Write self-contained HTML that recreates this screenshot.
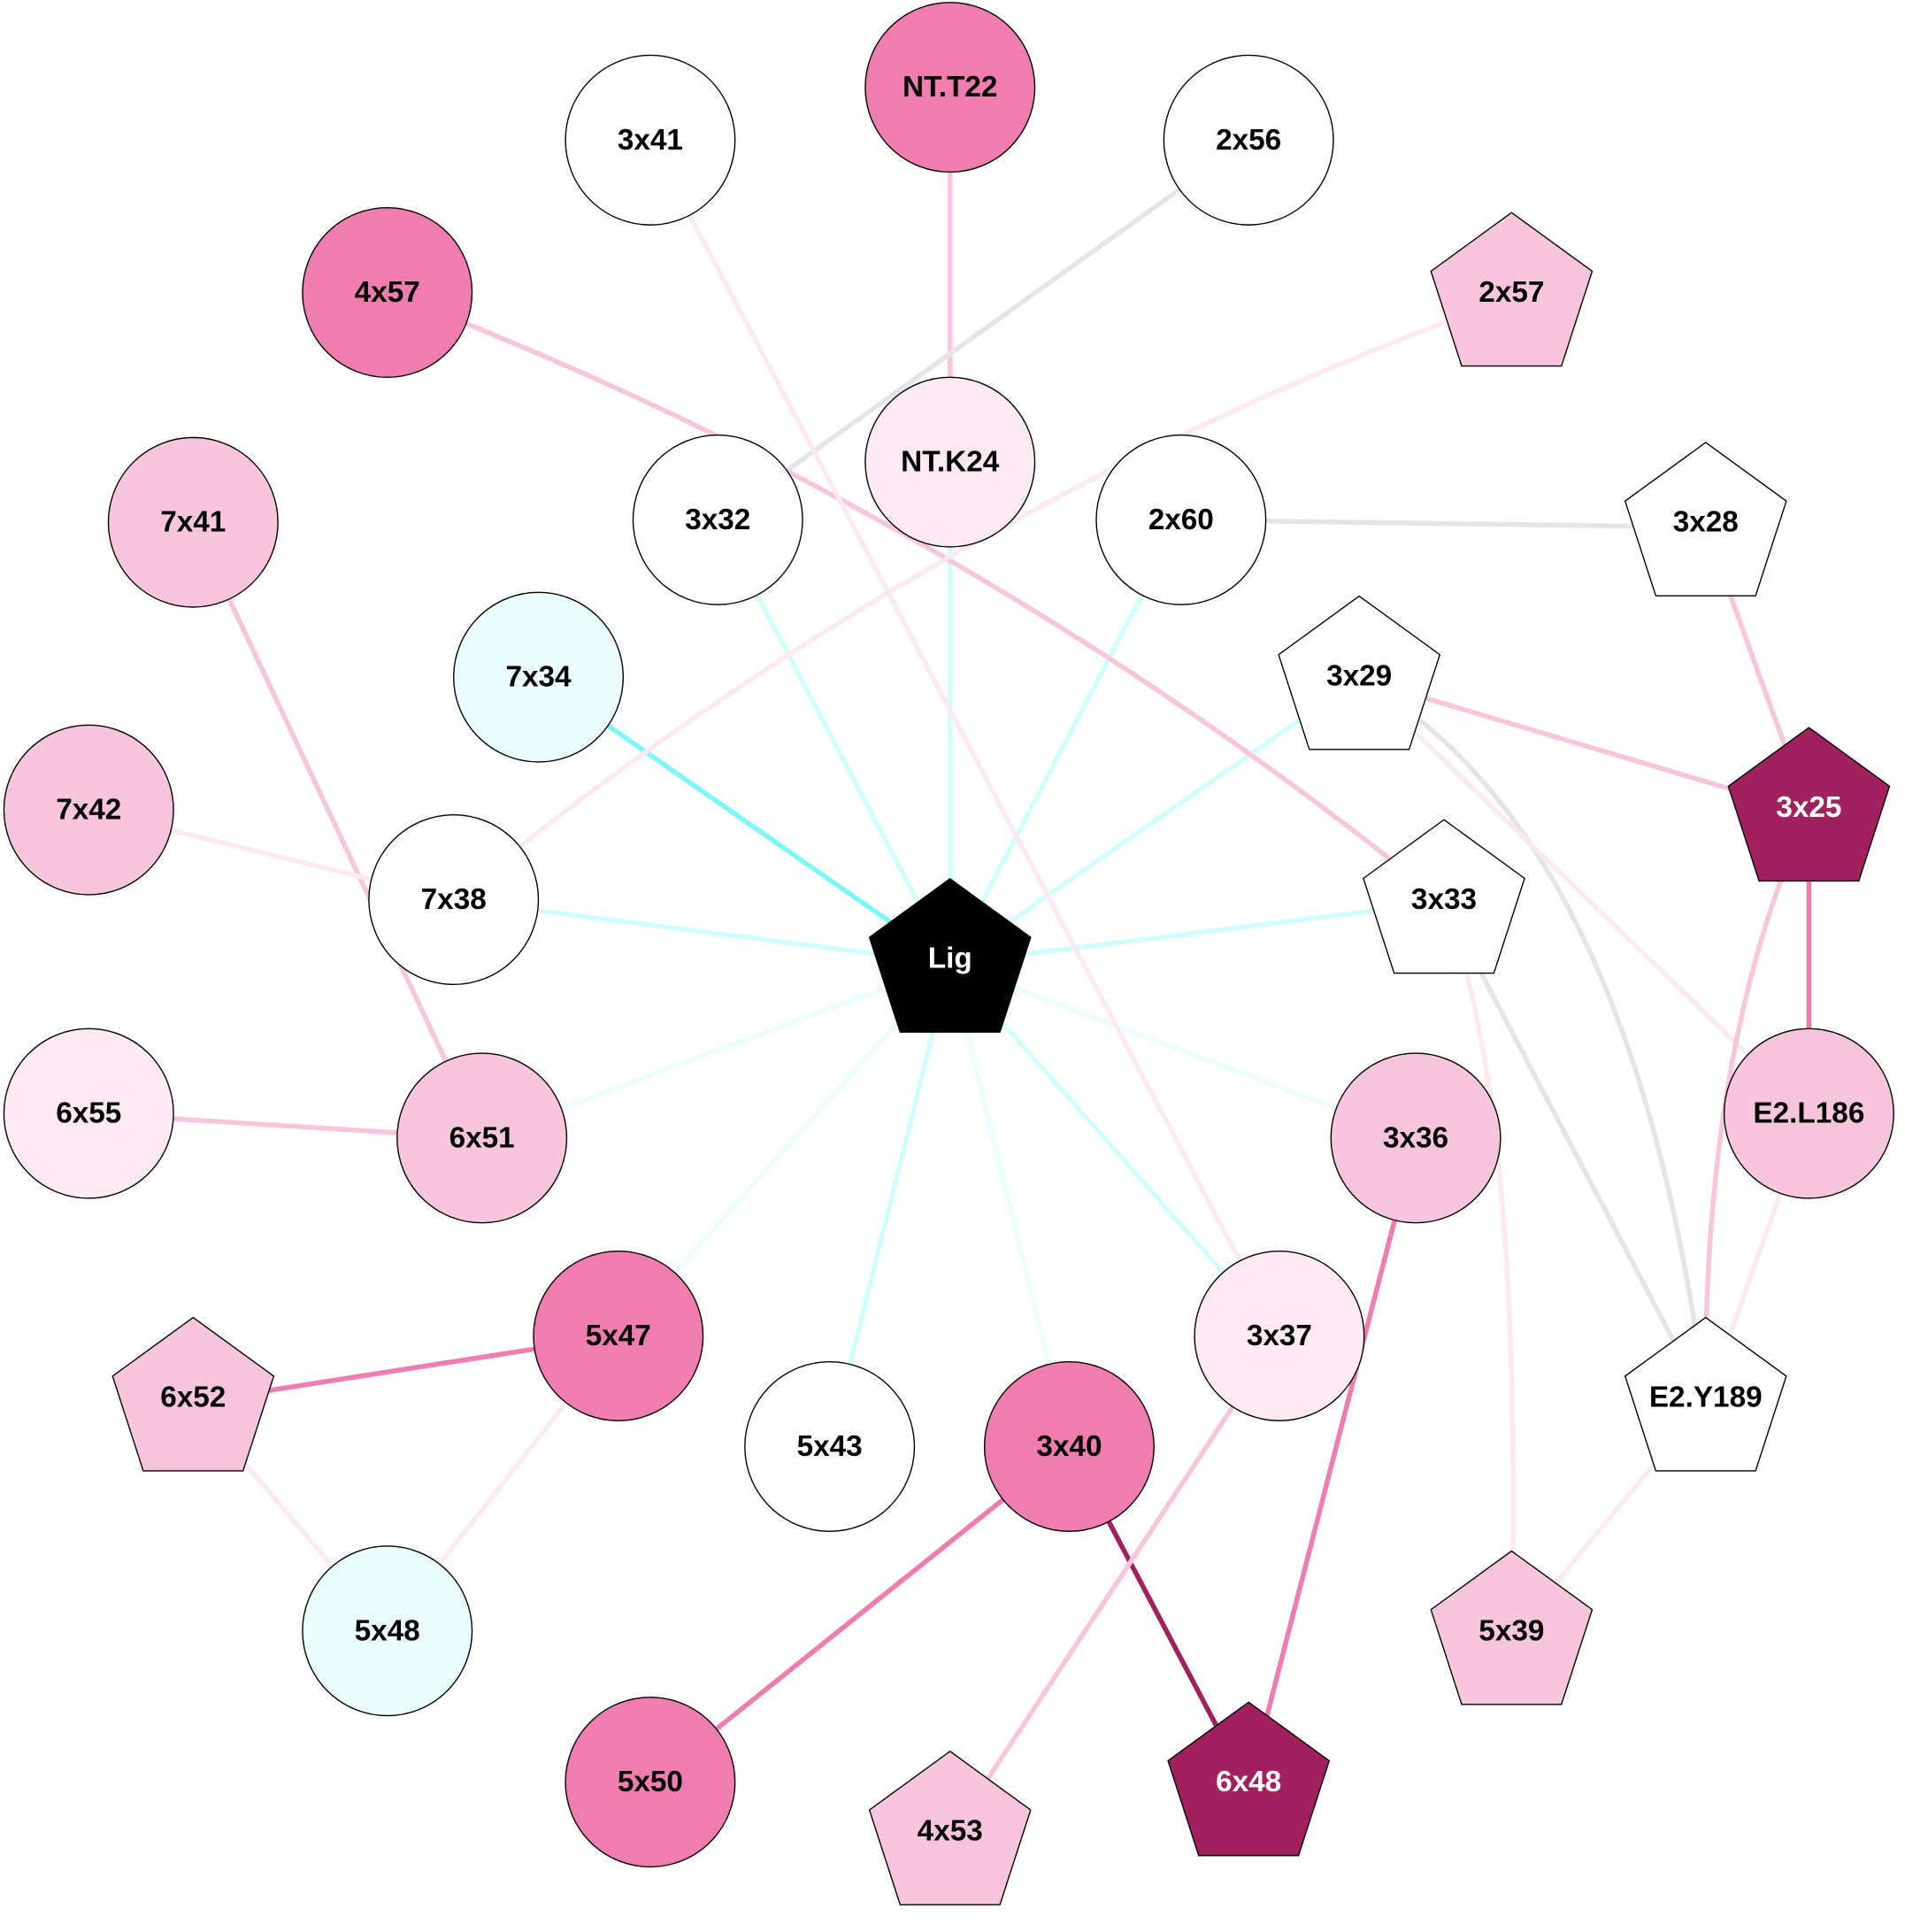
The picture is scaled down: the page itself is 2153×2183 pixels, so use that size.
<!DOCTYPE html>
<html><head><meta charset="utf-8"><style>
html,body{margin:0;padding:0;background:#fff;}
svg{display:block;}
text{font-family:"Liberation Sans",Arial,sans-serif;font-weight:bold;font-size:24px;text-anchor:middle;dominant-baseline:central;}
</style></head><body>
<svg width="2153" height="2183" viewBox="0 0 1550 1572" xmlns="http://www.w3.org/2000/svg">
<defs>
<polygon id="pg" points="0,-69 65.6,-21.3 40.6,55.8 -40.6,55.8 -65.6,-21.3"/>
</defs>
<g fill="none" stroke-width="4">
<line x1="773" y1="784" x2="438" y2="551" stroke="#80f7f7"/>
<line x1="773" y1="784" x2="584" y2="423" stroke="#d2fdfd"/>
<line x1="773" y1="784" x2="773" y2="376" stroke="#d2fdfd"/>
<line x1="773" y1="784" x2="961" y2="423" stroke="#d2fdfd"/>
<line x1="773" y1="784" x2="1106" y2="552" stroke="#d2fdfd"/>
<line x1="773" y1="784" x2="1175" y2="734" stroke="#d2fdfd"/>
<line x1="773" y1="784" x2="369" y2="732" stroke="#d2fdfd"/>
<line x1="773" y1="784" x2="392" y2="926" stroke="#eafefd"/>
<line x1="773" y1="784" x2="503" y2="1087" stroke="#eafefd"/>
<line x1="773" y1="784" x2="675" y2="1177" stroke="#d2fdfd"/>
<line x1="773" y1="784" x2="870" y2="1177" stroke="#eafefd"/>
<line x1="773" y1="784" x2="1041" y2="1087" stroke="#d2fdfd"/>
<line x1="773" y1="784" x2="1152" y2="926" stroke="#eafefd"/>
<line x1="773" y1="71" x2="773" y2="376" stroke="#f8c6dc"/>
<line x1="1016" y1="114" x2="584" y2="423" stroke="#e5e5e5"/>
<path d="M315 238 Q785 417 1175 734" stroke="#f8c6dc"/>
<path d="M1230 242 Q758 412 369 732" stroke="#fce9f2"/>
<line x1="529" y1="114" x2="1041" y2="1087" stroke="#fce9f2"/>
<line x1="961" y1="423" x2="1388" y2="429" stroke="#e5e5e5"/>
<line x1="1388" y1="429" x2="1472" y2="661" stroke="#f8c6dc"/>
<line x1="1106" y1="552" x2="1472" y2="661" stroke="#f8c6dc"/>
<path d="M1106 552 Q1330 680 1388 1141" stroke="#e5e5e5"/>
<line x1="1106" y1="552" x2="1472" y2="906" stroke="#fce9f2"/>
<line x1="1472" y1="661" x2="1472" y2="906" stroke="#f07daf"/>
<path d="M1472 661 Q1385 850 1388 1141" stroke="#f8c6dc"/>
<line x1="1472" y1="906" x2="1388" y2="1141" stroke="#fce9f2"/>
<line x1="1175" y1="734" x2="1388" y2="1141" stroke="#e5e5e5"/>
<path d="M1175 734 Q1240 900 1230 1331" stroke="#fce9f2"/>
<line x1="1388" y1="1141" x2="1230" y2="1331" stroke="#fce9f2"/>
<line x1="157" y1="425" x2="392" y2="926" stroke="#f8c6dc"/>
<line x1="72" y1="659" x2="369" y2="732" stroke="#fce9f2"/>
<line x1="72" y1="906" x2="392" y2="926" stroke="#f8c6dc"/>
<line x1="157" y1="1141" x2="503" y2="1087" stroke="#f07daf"/>
<line x1="157" y1="1141" x2="315" y2="1327" stroke="#fce9f2"/>
<line x1="503" y1="1087" x2="315" y2="1327" stroke="#fce9f2"/>
<line x1="870" y1="1177" x2="529" y2="1450" stroke="#f07daf"/>
<line x1="870" y1="1177" x2="1016" y2="1454" stroke="#a0215e"/>
<line x1="1152" y1="926" x2="1016" y2="1454" stroke="#f07daf"/>
<line x1="1041" y1="1087" x2="773" y2="1494" stroke="#f8c6dc"/>
</g>
<g stroke="#000" stroke-width="1">
<circle cx="773" cy="71" r="69" fill="#f07daf"/>
<circle cx="529" cy="114" r="69" fill="#fff"/>
<circle cx="1016" cy="114" r="69" fill="#fff"/>
<circle cx="315" cy="238" r="69" fill="#f07daf"/>
<use href="#pg" x="1230" y="242" fill="#f8c6dc"/>
<circle cx="157" cy="425" r="69" fill="#f8c6dc"/>
<circle cx="773" cy="376" r="69" fill="#fce9f2"/>
<circle cx="584" cy="423" r="69" fill="#fff"/>
<circle cx="961" cy="423" r="69" fill="#fff"/>
<use href="#pg" x="1388" y="429" fill="#fff"/>
<circle cx="438" cy="551" r="69" fill="#eafefd"/>
<use href="#pg" x="1106" y="554" fill="#fff"/>
<use href="#pg" x="1472" y="661" fill="#a0215e"/>
<circle cx="72" cy="659" r="69" fill="#f8c6dc"/>
<circle cx="369" cy="732" r="69" fill="#fff"/>
<use href="#pg" x="1175" y="736" fill="#fff"/>
<use href="#pg" x="773" y="784" fill="#000"/>
<circle cx="72" cy="906" r="69" fill="#fce9f2"/>
<circle cx="392" cy="926" r="69" fill="#f8c6dc"/>
<circle cx="1152" cy="926" r="69" fill="#f8c6dc"/>
<circle cx="1472" cy="906" r="69" fill="#f8c6dc"/>
<circle cx="503" cy="1087" r="69" fill="#f07daf"/>
<circle cx="1041" cy="1087" r="69" fill="#fce9f2"/>
<use href="#pg" x="157" y="1141" fill="#f8c6dc"/>
<use href="#pg" x="1388" y="1141" fill="#fff"/>
<circle cx="675" cy="1177" r="69" fill="#fff"/>
<circle cx="870" cy="1177" r="69" fill="#f07daf"/>
<circle cx="315" cy="1327" r="69" fill="#eafefd"/>
<use href="#pg" x="1230" y="1331" fill="#f8c6dc"/>
<circle cx="529" cy="1450" r="69" fill="#f07daf"/>
<use href="#pg" x="773" y="1494" fill="#f8c6dc"/>
<use href="#pg" x="1016" y="1454" fill="#a0215e"/>
</g>
<g fill="#000">
<text x="773" y="71">NT.T22</text>
<text x="529" y="114">3x41</text>
<text x="1016" y="114">2x56</text>
<text x="315" y="238">4x57</text>
<text x="1230" y="238">2x57</text>
<text x="157" y="425">7x41</text>
<text x="773" y="376">NT.K24</text>
<text x="584" y="423">3x32</text>
<text x="961" y="423">2x60</text>
<text x="1388" y="425">3x28</text>
<text x="438" y="551">7x34</text>
<text x="1106" y="550">3x29</text>
<text x="1472" y="657" fill="#fff">3x25</text>
<text x="72" y="659">7x42</text>
<text x="369" y="732">7x38</text>
<text x="1175" y="732">3x33</text>
<text x="773" y="780" fill="#fff">Lig</text>
<text x="72" y="906">6x55</text>
<text x="392" y="926">6x51</text>
<text x="1152" y="926">3x36</text>
<text x="1472" y="906">E2.L186</text>
<text x="503" y="1087">5x47</text>
<text x="1041" y="1087">3x37</text>
<text x="157" y="1137">6x52</text>
<text x="1388" y="1137">E2.Y189</text>
<text x="675" y="1177">5x43</text>
<text x="870" y="1177">3x40</text>
<text x="315" y="1327">5x48</text>
<text x="1230" y="1327">5x39</text>
<text x="529" y="1450">5x50</text>
<text x="773" y="1490">4x53</text>
<text x="1016" y="1450" fill="#fff">6x48</text>
</g>
</svg>
</body></html>
